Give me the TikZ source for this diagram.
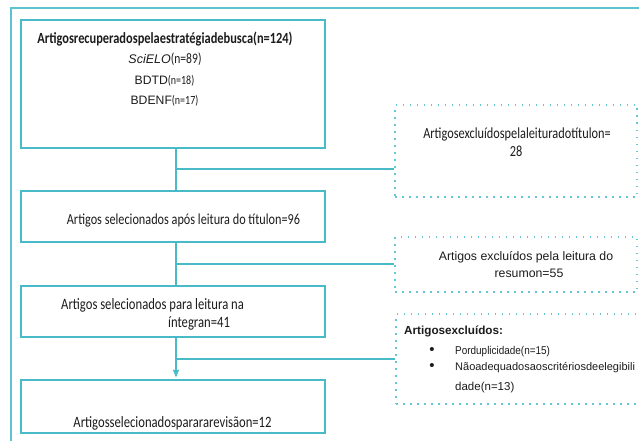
\documentclass[tikz,border=0pt]{standalone}
\usepackage{fontspec}
\setmainfont{Carlito}[FakeStretch=0.8]
\newfontfamily\arialf{Liberation Sans}
\newfontfamily\arialn[FakeStretch=0.88]{Liberation Sans}
\usetikzlibrary{arrows.meta}
\definecolor{framec}{RGB}{92,196,206}
\definecolor{boxc}{RGB}{72,186,200}
\definecolor{dotc}{RGB}{100,200,212}
\definecolor{txt}{RGB}{28,28,28}
\begin{document}
\begin{tikzpicture}[x=1pt,y=-1pt,
  solidbox/.style={draw=boxc,line width=1.3pt,minimum width=304pt,inner sep=0pt},
  dotbox/.style={draw=dotc,line width=1.5pt,dash pattern=on 1.5pt off 5.5pt,inner sep=0pt},
  lbl/.style={text=txt,inner sep=0pt,anchor=base},
  lblw/.style={text=txt,inner sep=0pt,anchor=base west},
  conn/.style={draw=boxc,line width=1.3pt}]
\useasboundingbox (0,0) rectangle (639,441);
\fill[white] (0,0) rectangle (639,441);
\draw[framec,line width=2pt] (11,445) -- (11,8) -- (645,8);
% main boxes
\node[solidbox,minimum height=128pt] (b1) at (173,84) {};
\node[solidbox,minimum height=51pt] (b2) at (173,216.5) {};
\node[solidbox,minimum height=51pt] (b3) at (173,311.5) {};
\node[solidbox,minimum height=53pt] (b4) at (173,406.5) {};
% exclusion boxes
\node[dotbox,minimum width=242pt,minimum height=92pt] (d1) at (516,151) {};
\node[dotbox,minimum width=242pt,minimum height=55pt] (d2) at (516,264.5) {};
\node[dotbox,minimum width=250pt,minimum height=90pt] (d3) at (521,359) {};
% connectors
\coordinate (j1) at (176,169);
\coordinate (j2) at (176,264);
\coordinate (j3) at (176,359);
\draw[conn] (b1.south -| j1) -- (b2.north -| j1);
\draw[conn] (j1) -- (j1 -| d1.west);
\draw[conn] (b2.south -| j2) -- (b3.north -| j2);
\draw[conn] (j2) -- (j2 -| d2.west);
\draw[conn,-{Stealth[length=8pt,width=6.5pt,inset=1.5pt]},shorten >=2pt] (b3.south -| j3) -- (b4.north -| j3);
\draw[conn] (j3) -- (j3 -| d3.west);
% texts box 1
\node[lbl,font=\bfseries\fontsize{15.5}{18}\selectfont] (t1) at (165,44) {Artigosrecuperadospelaestratégiadebusca(n=124)};
\node[lbl] (t2) at (165,64) {{\arialf\itshape\fontsize{12.5}{15}\selectfont SciELO}{\fontsize{14.5}{15}\selectfont(n=89)}};
\node[lbl] (t3) at (164.5,85) {{\arialf\fontsize{12.2}{15}\selectfont BDTD}{\fontsize{12.5}{15}\selectfont(n=18)}};
\node[lbl] (t4) at (164.5,105) {{\arialf\fontsize{12.2}{15}\selectfont BDENF}{\fontsize{12.5}{15}\selectfont(n=17)}};
% box 2-4 texts
\node[lbl,font=\fontsize{15.3}{18}\selectfont] (t5) at (183.5,224) {Artigos selecionados após leitura do títulon=96};
\node[lblw,font=\fontsize{15.8}{18}\selectfont] (t6) at (61,309) {Artigos selecionados para leitura na};
\node[lblw,font=\fontsize{15.8}{18}\selectfont] (t7) at (168,327) {íntegran=41};
\node[lbl,font=\fontsize{15.8}{18}\selectfont] (t8) at (172.5,427) {Artigosselecionadosparararevisãon=12};
% exclusion texts
\node[lbl,font=\fontsize{15.4}{18}\selectfont] (t9) at (517,138) {Artigosexcluídospelaleituradotítulon=};
\node[lbl,font=\fontsize{15.4}{18}\selectfont] (t10) at (516,156) {28};
\node[lbl,font=\arialf\fontsize{12.3}{14}\selectfont] (t11) at (526,260) {Artigos excluídos pela leitura do};
\node[lbl,font=\arialf\fontsize{12.3}{14}\selectfont] (t12) at (529,277) {resumon=55};
\node[lblw,font=\arialf\bfseries\fontsize{11.7}{14}\selectfont] (t13) at (404,334) {Artigosexcluídos:};
\node[lbl,font=\arialf\fontsize{15}{14}\selectfont] (u1) at (432,354) {\textbullet};
\node[lbl,font=\arialf\fontsize{15}{14}\selectfont] (u2) at (432,370) {\textbullet};
\node[lblw,font=\arialn\fontsize{11.3}{14}\selectfont] (t14) at (455,354) {Porduplicidade(n=15)};
\node[lblw,font=\arialf\fontsize{11}{14}\selectfont] (t15) at (455,370) {Nãoadequadosaoscritériosdeelegibili};
\node[lblw,font=\arialf\fontsize{11.5}{14}\selectfont] (t16) at (455,390) {dade(n=13)};
\end{tikzpicture}
\end{document}
